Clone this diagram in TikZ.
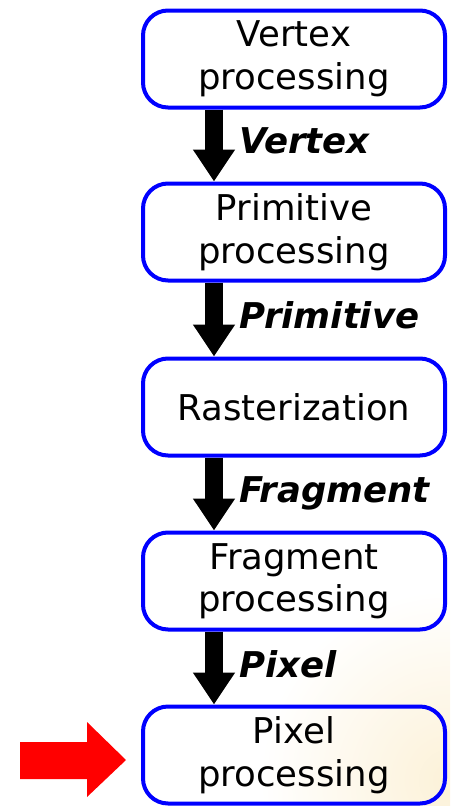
\documentclass[tikz,border=0pt]{standalone}
\usepackage{fontspec}
\setmainfont{DejaVu Sans}
\usetikzlibrary{arrows.meta,calc}
\definecolor{glow}{RGB}{250,232,190}
\begin{document}
\begin{tikzpicture}[x=1pt,y=1pt,
  stage/.style={draw=blue, line width=4pt, rounded corners=25pt,
    minimum width=302pt, minimum height=97pt, inner sep=0pt,
    align=center, font=\fontsize{35.5}{42.5}\selectfont},
  flow/.style={line width=18pt, -{Triangle[width=40pt,length=32pt]}},
  datalabel/.style={anchor=base west, inner sep=0pt,
    font=\fontsize{35.5}{42}\selectfont\bfseries\itshape}
]
\useasboundingbox (0,0) rectangle (450,-806);
% faint warm glow in the lower right corner
\fill[white] (0,0) rectangle (450,-806);
\begin{scope}
  \clip (0,0) rectangle (450,-806);
  \shade[inner color=glow!60, outer color=white] (450,-780) circle (190);
\end{scope}

% pipeline stages
\node[stage] (s1) at (294,-59)  {Vertex\\processing};
\node[stage] (s2) at (294,-232) {Primitive\\processing};
\node[stage] (s3) at (294,-407) {Rasterization};
\node[stage] (s4) at (294,-581) {Fragment\\processing};
\node[stage] (s5) at (294,-755) {Pixel\\processing};

% data passed between stages
\draw[flow] ([xshift=73pt]s1.south west) -- ([xshift=73pt]s2.north west);
\draw[flow] ([xshift=73pt]s2.south west) -- ([xshift=73pt]s3.north west);
\draw[flow] ([xshift=73pt]s3.south west) -- ([xshift=73pt]s4.north west);
\draw[flow] ([xshift=73pt]s4.south west) -- ([xshift=73pt]s5.north west);

\node[datalabel] (l1) at (239,-153) {Vertex};
\node[datalabel] (l2) at (239,-328) {Primitive};
\node[datalabel] (l3) at (239,-502) {Fragment};
\node[datalabel] (l4) at (239,-677) {Pixel};

% highlight of the current stage
\coordinate (hl) at ([xshift=-15pt,yshift=-5pt]s5.west);
\fill[red] (hl) ++(-106,18) -- ++(67,0) -- ++(0,20) -- (hl) -- ++(-39,-37)
  -- ++(0,18) -- ++(-67,0) -- cycle;
\end{tikzpicture}
\end{document}
